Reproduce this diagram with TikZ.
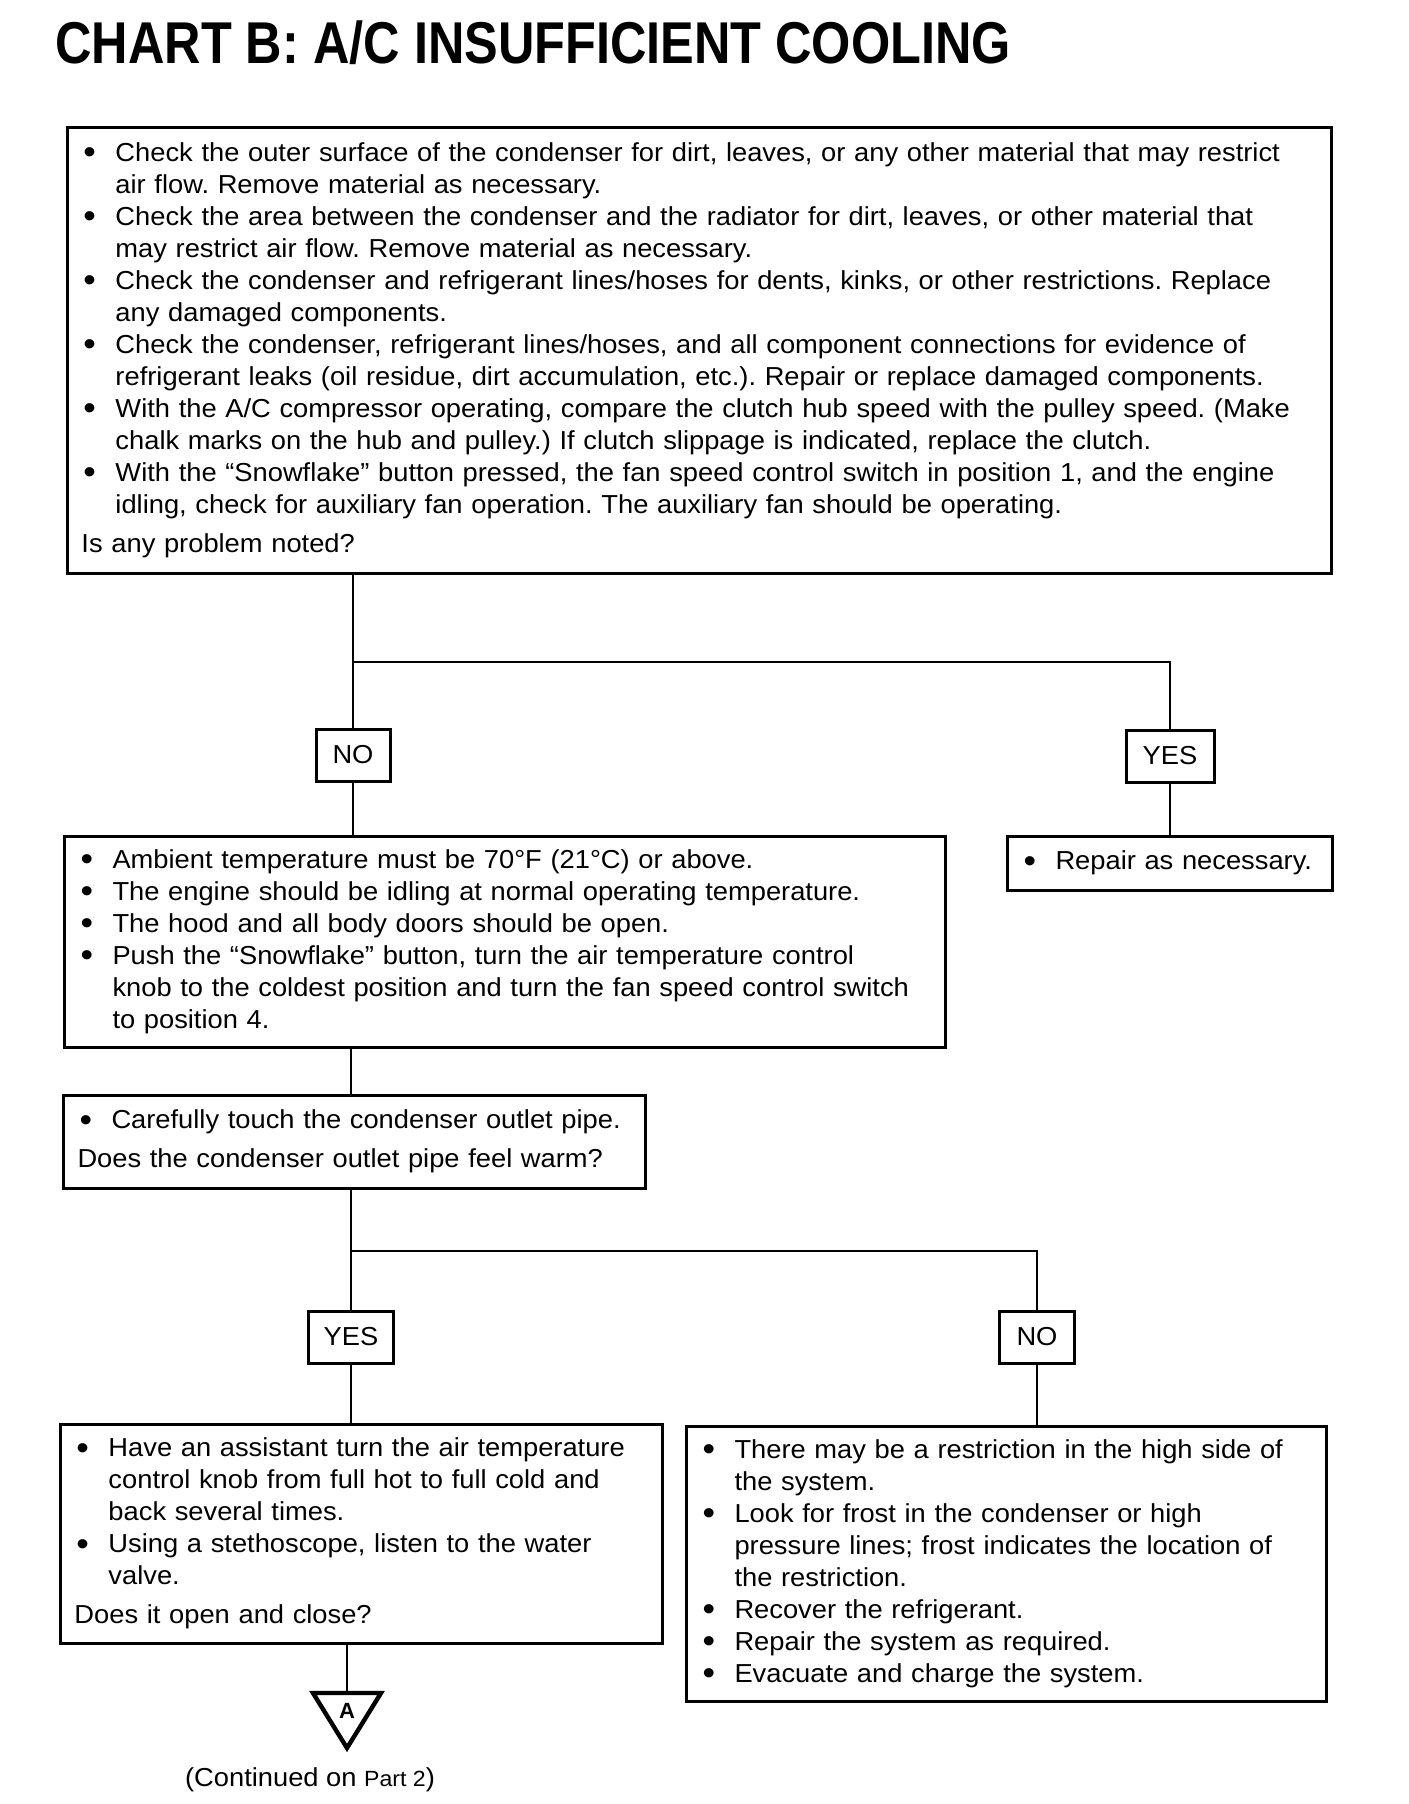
\documentclass[tikz,border=0pt]{standalone}
\usepackage{fontspec}
\setmainfont[FakeStretch=1.05]{Liberation Sans}
\newfontfamily\titlefont[FakeStretch=0.855]{Liberation Sans Bold}
\newfontfamily\labelfont{Liberation Sans}
\usepackage{graphicx}
\setlength{\parindent}{0pt}
\frenchspacing
\newcommand{\bitem}{\par\hangindent=17pt\hangafter=1\noindent\makebox[17pt][l]{\hspace{1pt}\raisebox{-1.2pt}{\fontsize{17}{16}\selectfont •}}}
\newcommand{\qline}{\par\vspace{3.5pt}\noindent}
\newcommand{\bend}{\par\vspace{7pt}\kern0pt\relax}
\begin{document}
\begin{tikzpicture}[x=0.5pt,y=-0.5pt,
  box/.style={draw, line width=1.5pt, anchor=north west, align=left, inner xsep=7pt, inner ysep=0pt,
    font=\fontsize{13}{16}\selectfont},
  lbl/.style={draw, line width=1.5pt, inner sep=0pt, minimum height=26pt, font=\fontsize{13}{14}\selectfont},
  conn/.style={line width=1.3pt}]
\useasboundingbox (0,0) rectangle (1408,1804);
\fill[white] (0,0) rectangle (1408,1804);

\node[anchor=base west, inner sep=0pt, font=\titlefont\fontsize{29.5}{32}\selectfont] (title) at (55,63)
  {CHART B: A/C INSUFFICIENT COOLING};

\node[box, text width=618pt, minimum height=223pt] (box1) at (66,126) {%
\bitem Check the outer surface of the condenser for dirt, leaves, or any other material that may restrict\newline air flow. Remove material as necessary.
\bitem Check the area between the condenser and the radiator for dirt, leaves, or other material that\newline may restrict air flow. Remove material as necessary.
\bitem Check the condenser and refrigerant lines/hoses for dents, kinks, or other restrictions. Replace\newline any damaged components.
\bitem Check the condenser, refrigerant lines/hoses, and all component connections for evidence of\newline refrigerant leaks (oil residue, dirt accumulation, etc.). Repair or replace damaged components.
\bitem With the A/C compressor operating, compare the clutch hub speed with the pulley speed. (Make\newline chalk marks on the hub and pulley.) If clutch slippage is indicated, replace the clutch.
\bitem With the “Snowflake” button pressed, the fan speed control switch in position 1, and the engine\newline idling, check for auxiliary fan operation. The auxiliary fan should be operating.
\qline Is any problem noted?\bend};

\node[lbl, minimum width=37pt] (no1) at (353,755) {NO};
\node[lbl, minimum width=44pt] (yes1) at (1170,756) {YES};

\node[box, text width=426.5pt, minimum height=105pt] (box2) at (63,835) {%
\bitem Ambient temperature must be 70°F (21°C) or above.
\bitem The engine should be idling at normal operating temperature.
\bitem The hood and all body doors should be open.
\bitem Push the “Snowflake” button, turn the air temperature control\newline knob to the coldest position and turn the fan speed control switch\newline to position 4.\bend};

\node[box, text width=148.5pt, minimum height=27pt] (rep) at (1006,835) {%
\bitem Repair as necessary.\bend};

\node[box, text width=277pt, minimum height=46.5pt] (box3) at (62,1094) {%
\bitem Carefully touch the condenser outlet pipe.
\qline Does the condenser outlet pipe feel warm?\bend};

\node[lbl, minimum width=42.5pt] (yes2) at (351,1337) {YES};
\node[lbl, minimum width=37.5pt] (no2) at (1037,1337) {NO};

\node[box, text width=287pt, minimum height=109.5pt] (box4) at (59,1423) {%
\bitem Have an assistant turn the air temperature\newline control knob from full hot to full cold and\newline back several times.
\bitem Using a stethoscope, listen to the water\newline valve.
\qline Does it open and close?\bend};

\node[box, text width=306pt, minimum height=137pt] (box5) at (685,1425) {%
\bitem There may be a restriction in the high side of\newline the system.
\bitem Look for frost in the condenser or high\newline pressure lines; frost indicates the location of\newline the restriction.
\bitem Recover the refrigerant.
\bitem Repair the system as required.
\bitem Evacuate and charge the system.\bend};

\coordinate (j1) at (353,662);
\coordinate (c2) at (351,0);
\coordinate (j2) at (351,1251);
\coordinate (tritop) at (347,1693);

\draw[line width=2.2pt, line join=miter] (313,1693) -- (381,1693) -- (347,1748) -- cycle;
\node[inner sep=0pt, font=\labelfont\bfseries\fontsize{11}{12}\selectfont] (triA) at (347,1711) {A};

\node[anchor=base, inner sep=0pt, font=\fontsize{13}{14}\selectfont] (cont) at (310,1786)
  {(Continued on {\fontsize{11}{12}\selectfont Part 2})};

\draw[conn] (box1.south -| no1.north) -- (no1.north);
\draw[conn] (j1) -- (j1 -| yes1.north) -- (yes1.north);
\draw[conn] (no1.south) -- (no1.south |- box2.north);
\draw[conn] (yes1.south) -- (yes1.south |- rep.north);
\draw[conn] (box2.south -| c2) -- (box3.north -| c2);
\draw[conn] (box3.south -| yes2.north) -- (yes2.north);
\draw[conn] (j2) -- (j2 -| no2.north) -- (no2.north);
\draw[conn] (yes2.south) -- (yes2.south |- box4.north);
\draw[conn] (no2.south) -- (no2.south |- box5.north);
\draw[conn] (box4.south -| tritop) -- (tritop);
\end{tikzpicture}
\end{document}
